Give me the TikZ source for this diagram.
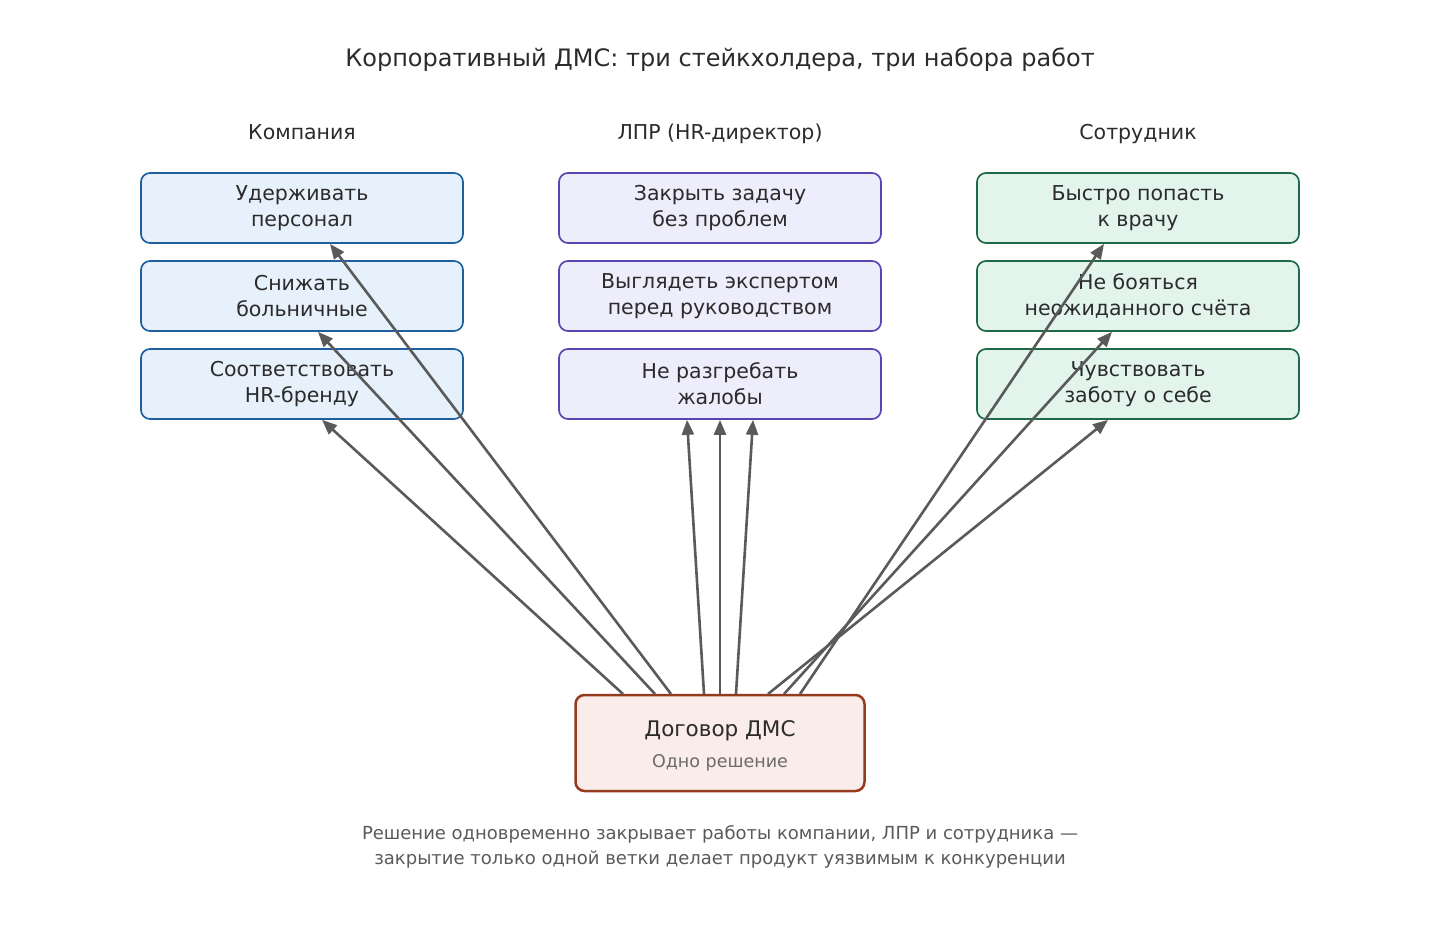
\documentclass[tikz,border=0pt]{standalone}
\usepackage{fontspec}
\setmainfont{DejaVu Sans}
\usetikzlibrary{arrows.meta}
\definecolor{txt}{HTML}{2B2B2B}
\definecolor{cf}{HTML}{E7F1FB}\definecolor{cd}{HTML}{1F5F9F}
\definecolor{mf}{HTML}{EEEDFC}\definecolor{md}{HTML}{5546B0}
\definecolor{sf}{HTML}{E2F4EC}\definecolor{sd}{HTML}{1E6A48}
\definecolor{df}{HTML}{FAECE8}\definecolor{dd}{HTML}{963A1E}
\definecolor{ar}{HTML}{5A5A5A}
\begin{document}
\begin{tikzpicture}[x=1pt,y=-1pt,
 box/.style={draw,rounded corners=9pt,line width=1.7pt,minimum width=322pt,minimum height=70pt,align=center,text=txt,font=\fontsize{20.5}{26}\selectfont},
 cb/.style={box,fill=cf,draw=cd},mb/.style={box,fill=mf,draw=md},sb/.style={box,fill=sf,draw=sd},
 hd/.style={text=txt,anchor=base,font=\fontsize{20.5}{24}\selectfont},
 arr/.style={draw=ar,line width=2.6pt,-{Triangle[length=15pt,width=12pt]}}]
\useasboundingbox (0,0) rectangle (1440,944);
\node[text=txt,font=\fontsize{24}{28}\selectfont] (t) at (720,60) {Корпоративный ДМС: три стейкхолдера, три набора работ};
\node[hd] (h1) at (302,140) {Компания};
\node[hd] (h2) at (720,140) {ЛПР (HR-директор)};
\node[hd] (h3) at (1138,140) {Сотрудник};
\node[cb] (c1) at (302,208) {Удерживать\\персонал};
\node[cb] (c2) at (302,296) {Снижать\\больничные};
\node[cb] (c3) at (302,384) {Соответствовать\\HR-бренду};
\node[mb] (m1) at (720,208) {Закрыть задачу\\без проблем};
\node[mb] (m2) at (720,296) {Выглядеть экспертом\\перед руководством};
\node[mb] (m3) at (720,384) {Не разгребать\\жалобы};
\node[sb] (s1) at (1138,208) {Быстро попасть\\к врачу};
\node[sb] (s2) at (1138,296) {Не бояться\\неожиданного счёта};
\node[sb] (s3) at (1138,384) {Чувствовать\\заботу о себе};
\node[draw=dd,fill=df,rounded corners=9pt,line width=2.5pt,minimum width=289pt,minimum height=96pt] (d) at (720,743) {};
\node[text=txt,font=\fontsize{21.5}{26}\selectfont] (dt) at (720,731) {Договор ДМС};
\node[text=ar!90,font=\fontsize{17.5}{21}\selectfont] (ds) at (720,763) {Одно решение};
\coordinate (a1) at (623,694);\coordinate (a2) at (655,694);\coordinate (a3) at (671,694);
\coordinate (a4) at (704,694);\coordinate (a5) at (720,694);\coordinate (a6) at (736,694);
\coordinate (a7) at (768,694);\coordinate (a8) at (784,694);\coordinate (a9) at (800,694);
\draw[arr] (a1) -- (c3.south -| 322,0) ;
\draw[arr] (a2) -- (c2.south -| 318,0);
\draw[arr] (a3) -- (c1.south -| 330,0);
\draw[arr] (a4) -- (m3.south -| 687,0);
\draw[arr] (a5) -- (m3.south);
\draw[arr] (a6) -- (m3.south -| 753,0);
\draw[arr] (a7) -- (s3.south -| 1108,0);
\draw[arr] (a8) -- (s2.south -| 1112,0);
\draw[arr] (a9) -- (s1.south -| 1104,0);
\node[text=ar,align=center,font=\fontsize{18}{25}\selectfont] (f) at (720,847) {Решение одновременно закрывает работы компании, ЛПР и сотрудника —\\закрытие только одной ветки делает продукт уязвимым к конкуренции};
\end{tikzpicture}
\end{document}
